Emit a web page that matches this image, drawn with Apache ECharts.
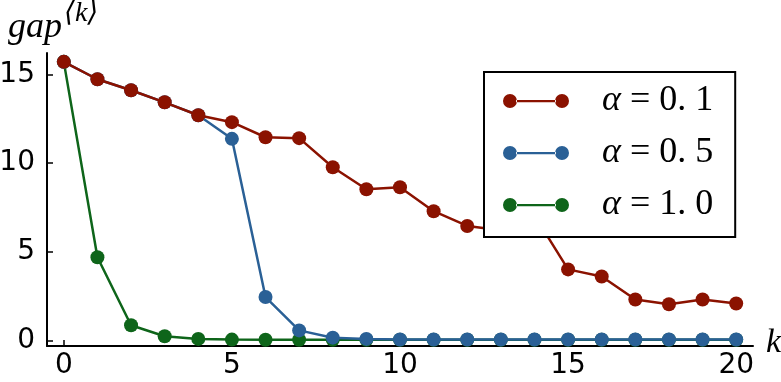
<!DOCTYPE html>
<html>
<head>
<meta charset="utf-8">
<script src="https://cdn.jsdelivr.net/npm/echarts@6/dist/echarts.min.js"></script>
<style>
  html, body { margin: 0; padding: 0; background: #fff; }
  #chart { width: 781px; height: 382px; }
</style>
</head>
<body>
<div id="chart"></div>
<script>
// iteration index k
var ks = [0, 1, 2, 3, 4, 5, 6, 7, 8, 9, 10, 11, 12, 13, 14, 15, 16, 17, 18, 19, 20];
// gap values per step size
var gapA01 = [15.7, 14.72, 14.1, 13.42, 12.69, 12.3, 11.45, 11.4, 9.76, 8.52, 8.63, 7.28, 6.45, 6.2, 7.05, 4.0, 3.6, 2.3, 2.03, 2.3, 2.08];
var gapA05 = [15.7, 14.72, 14.1, 13.42, 12.69, 11.36, 2.44, 0.56, 0.15, 0.08, 0.05, 0.05, 0.05, 0.05, 0.05, 0.05, 0.05, 0.05, 0.05, 0.05, 0.05];
var gapA10 = [15.7, 4.68, 0.85, 0.23, 0.08, 0.04, 0.03, 0.03, 0.03, 0.03, 0.03, 0.03, 0.03, 0.03, 0.03, 0.03, 0.03, 0.03, 0.03, 0.03, 0.03];
var seriesNames = ['α=0.1', 'α=0.5', 'α=1.0'];
var legendValues = ['0. 1', '0. 5', '1. 0'];
var xTicks = [0, 5, 10, 15, 20];
var yTicks = [0, 5, 10, 15];

var colors = ['#8b1200', '#2a6096', '#0e651a'];
var serif = "'Liberation Serif', 'DejaVu Serif', serif";

function pairs(vals) {
  return ks.map(function (k, i) { return [k, vals[i]]; });
}

// two dots joined by a line, like the matplotlib legend handle
var handleIcon = 'path://M0,7a7,7 0 1,0 14,0a7,7 0 1,0 -14,0Z' +
  'M13,6L53,6L53,8.2L13,8.2Z' +
  'M52,7a7,7 0 1,0 14,0a7,7 0 1,0 -14,0Z';

var chart = echarts.init(document.getElementById('chart'));

function makeSeries(i, vals, z) {
  return {
    name: seriesNames[i],
    type: 'line',
    data: pairs(vals),
    z: z,
    symbol: 'circle',
    symbolSize: 14,
    showSymbol: true,
    color: colors[i],
    lineStyle: { width: 2.5, color: colors[i] },
    itemStyle: { color: colors[i] },
    animation: false
  };
}

var option = {
  animation: false,
  grid: { left: 47, right: 28, top: 53, bottom: 36, outerBoundsMode: 'none' },
  xAxis: {
    type: 'value',
    min: -0.5,
    max: 20.5,
    splitLine: { show: false },
    axisLine: { onZero: false, lineStyle: { color: '#000', width: 2 } },
    axisTick: { inside: true, length: 6, lineStyle: { color: '#000', width: 1.5 }, customValues: xTicks },
    axisLabel: { customValues: xTicks, color: '#000', fontFamily: 'DejaVu Sans', fontSize: 28, margin: 6 }
  },
  yAxis: {
    type: 'value',
    min: -0.32,
    max: 16.2,
    splitLine: { show: false },
    axisLine: { show: true, onZero: false, lineStyle: { color: '#000', width: 2 } },
    axisTick: { show: true, inside: true, length: 6, lineStyle: { color: '#000', width: 1.5 }, customValues: yTicks },
    axisLabel: { customValues: yTicks, color: '#000', fontFamily: 'DejaVu Sans', fontSize: 28, margin: 12 }
  },
  legend: {
    data: seriesNames,
    orient: 'vertical',
    left: 484,
    top: 72,
    z: 10,
    padding: [11, 22, 14, 19],
    itemGap: 16,
    itemWidth: 66,
    itemHeight: 14,
    icon: handleIcon,
    backgroundColor: '#fff',
    borderColor: '#000',
    borderWidth: 2,
    borderRadius: 0,
    formatter: function (name) {
      var i = seriesNames.indexOf(name);
      return '{a|α}{b| = ' + legendValues[i] + '}';
    },
    textStyle: {
      padding: [0, 0, 0, 28],
      lineHeight: 34,
      rich: {
        a: { fontFamily: serif, fontStyle: 'italic', fontSize: 36, color: '#000', lineHeight: 34 },
        b: { fontFamily: serif, fontSize: 36, color: '#000', lineHeight: 34 }
      }
    }
  },
  graphic: [
    { type: 'text', left: 8, top: 10, style: { text: 'gap', font: 'italic 36px ' + serif, fill: '#000' } },
    { type: 'text', left: 64, top: 0, style: { text: '⟨k⟩', font: 'italic 28px ' + serif, fill: '#000' } },
    { type: 'text', left: 766, top: 326, style: { text: 'k', font: 'italic 34px ' + serif, fill: '#000' } }
  ],
  series: [
    makeSeries(0, gapA01, 4),
    makeSeries(1, gapA05, 3),
    makeSeries(2, gapA10, 2)
  ]
};

chart.setOption(option);
</script>
</body>
</html>
